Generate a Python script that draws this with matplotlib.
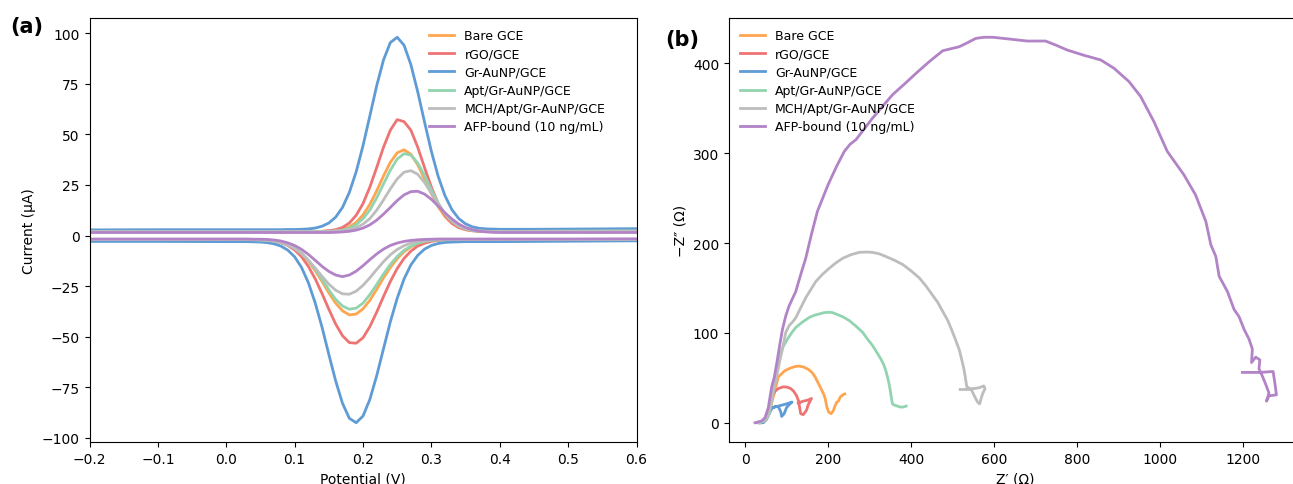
import matplotlib
matplotlib.use("Agg")
import matplotlib.pyplot as plt

labels = ["Bare GCE", "rGO/GCE", "Gr-AuNP/GCE", "Apt/Gr-AuNP/GCE",
          "MCH/Apt/Gr-AuNP/GCE", "AFP-bound (10 ng/mL)"]
colors = ["#ffa54f", "#ee7373", "#5f9bd5", "#93d4b0", "#bdbdbd", "#b283c6"]

# ---- (a) cyclic voltammograms, potential in V, current in uA ----
potential = [-0.20, -0.10, 0.00, 0.03, 0.04, 0.05, 0.06, 0.07, 0.08, 0.09,
             0.10, 0.11, 0.12, 0.13, 0.14, 0.15, 0.16, 0.17, 0.18, 0.19,
             0.20, 0.21, 0.22, 0.23, 0.24, 0.25, 0.26, 0.27, 0.28, 0.29,
             0.30, 0.31, 0.32, 0.33, 0.34, 0.35, 0.36, 0.37, 0.38, 0.39,
             0.40, 0.45, 0.50, 0.60]

# forward (anodic) sweep
ox_bare = [2.0, 2.0, 2.0, 2.0, 2.0, 2.0, 2.0, 2.0, 2.0, 2.0,
           2.0, 2.0, 2.0, 2.0, 2.1, 2.2, 2.4, 3.1, 4.3, 6.5,
           10.2, 15.4, 22.1, 29.5, 36.2, 40.9, 42.4, 40.2, 35.0, 28.0,
           20.7, 14.2, 9.3, 6.0, 4.0, 2.9, 2.4, 2.1, 2.0, 2.0,
           2.0, 2.1, 2.2, 2.3]
ox_rgo = [2.0, 2.0, 2.0, 2.0, 2.0, 2.0, 2.0, 2.0, 2.0, 2.0,
          2.0, 2.0, 2.0, 2.0, 2.1, 2.4, 2.9, 4.0, 6.2, 10.0,
          15.8, 23.9, 33.6, 43.7, 52.1, 57.3, 56.3, 52.1, 43.7, 33.6,
          23.9, 15.8, 10.0, 6.2, 4.0, 2.9, 2.4, 2.1, 2.0, 2.0,
          2.0, 2.1, 2.2, 2.4]
ox_auNP = [2.8, 2.9, 2.9, 2.9, 2.9, 2.9, 2.9, 2.9, 2.9, 3.0,
           3.0, 3.1, 3.3, 3.7, 4.6, 6.2, 9.1, 13.9, 21.3, 31.5,
           44.4, 59.1, 74.0, 86.8, 95.4, 98.0, 94.1, 84.5, 71.1, 56.1,
           41.6, 29.2, 19.6, 12.8, 8.4, 5.8, 4.3, 3.6, 3.3, 3.2,
           3.1, 3.1, 3.2, 3.4]
ox_apt = [2.0, 2.0, 2.0, 2.0, 2.0, 2.0, 2.0, 2.0, 2.0, 2.0,
          2.0, 2.0, 2.0, 2.0, 2.0, 2.1, 2.3, 2.7, 3.6, 5.4,
          8.3, 12.6, 18.6, 25.5, 32.3, 37.8, 40.5, 39.8, 35.9, 29.7,
          22.6, 16.0, 10.7, 7.0, 4.6, 3.2, 2.5, 2.2, 2.1, 2.0,
          2.0, 2.1, 2.2, 2.3]
ox_mch = [2.0, 2.0, 2.0, 2.0, 2.0, 2.0, 2.0, 2.0, 2.0, 2.0,
          2.0, 2.0, 2.0, 2.0, 2.0, 2.0, 2.1, 2.4, 2.9, 3.9,
          5.6, 8.4, 12.5, 17.6, 23.1, 28.0, 31.3, 32.1, 30.3, 26.2,
          20.9, 15.4, 10.7, 7.2, 4.8, 3.4, 2.6, 2.3, 2.1, 2.0,
          2.0, 2.1, 2.1, 2.2]
ox_afp = [1.5, 1.5, 1.5, 1.5, 1.5, 1.5, 1.5, 1.5, 1.5, 1.5,
          1.5, 1.5, 1.5, 1.5, 1.5, 1.5, 1.6, 1.8, 2.1, 2.7,
          3.7, 5.3, 7.6, 10.6, 13.9, 17.3, 20.1, 21.7, 21.9, 20.5,
          17.9, 14.6, 11.2, 8.2, 5.7, 4.0, 2.9, 2.2, 1.8, 1.6,
          1.5, 1.5, 1.5, 1.5]

# reverse (cathodic) sweep
red_bare = [-2.0, -2.0, -2.0, -2.0, -2.0, -2.1, -2.3, -2.7, -3.3, -4.4,
            -6.2, -8.9, -12.6, -17.3, -22.6, -28.3, -33.4, -37.2, -39.2, -38.8,
            -36.2, -32.0, -26.6, -20.9, -15.8, -11.4, -8.0, -5.6, -4.0, -3.1,
            -2.5, -2.3, -2.1, -2.0, -2.0, -2.0, -2.0, -2.0, -2.0, -2.0,
            -2.0, -2.0, -2.0, -1.9]
red_rgo = [-2.0, -2.0, -2.0, -2.0, -2.1, -2.2, -2.4, -2.8, -3.5, -4.9,
           -7.1, -10.4, -15.2, -21.3, -28.6, -36.4, -43.7, -49.5, -52.9, -53.2,
           -50.5, -45.0, -37.9, -30.1, -22.7, -16.3, -11.3, -7.7, -5.2, -3.8,
           -2.9, -2.4, -2.2, -2.1, -2.0, -2.0, -2.0, -2.0, -2.0, -2.0,
           -2.0, -2.0, -2.0, -1.9]
red_auNP = [-2.9, -2.9, -3.0, -3.0, -3.1, -3.2, -3.5, -4.1, -5.2, -7.2,
            -10.5, -15.7, -23.2, -33.2, -45.2, -58.7, -71.8, -82.9, -90.3, -92.5,
            -89.2, -81.0, -69.3, -55.9, -42.6, -31.0, -21.5, -14.5, -9.8, -6.7,
            -4.9, -3.9, -3.4, -3.2, -3.1, -3.0, -3.0, -3.0, -3.0, -3.0,
            -3.0, -2.9, -2.8, -2.6]
red_apt = [-2.0, -2.0, -2.0, -2.0, -2.0, -2.1, -2.3, -2.7, -3.3, -4.4,
           -6.1, -8.7, -12.2, -16.6, -21.6, -26.8, -31.5, -34.8, -36.4, -35.9,
           -33.4, -29.2, -24.2, -19.0, -14.3, -10.3, -7.3, -5.2, -3.8, -2.9,
           -2.4, -2.2, -2.1, -2.0, -2.0, -2.0, -2.0, -2.0, -2.0, -2.0,
           -2.0, -2.0, -2.0, -1.9]
red_mch = [-2.0, -2.0, -2.0, -2.0, -2.1, -2.2, -2.4, -2.8, -3.5, -4.7,
           -6.4, -8.9, -12.2, -16.0, -20.1, -24.0, -27.0, -28.8, -29.0, -27.5,
           -24.6, -20.9, -16.8, -12.9, -9.5, -6.9, -5.0, -3.7, -2.9, -2.5,
           -2.2, -2.1, -2.0, -2.0, -2.0, -2.0, -2.0, -2.0, -2.0, -2.0,
           -2.0, -2.0, -2.0, -1.9]
red_afp = [-1.7, -1.7, -1.7, -1.7, -1.8, -1.8, -1.9, -2.2, -2.7, -3.6,
           -4.9, -6.8, -9.3, -12.2, -15.2, -17.7, -19.5, -20.3, -19.5, -17.6,
           -14.9, -11.9, -9.1, -6.7, -4.9, -3.7, -2.9, -2.4, -2.1, -1.9,
           -1.8, -1.7, -1.7, -1.7, -1.7, -1.7, -1.7, -1.7, -1.7, -1.7,
           -1.7, -1.7, -1.7, -1.6]

ox_all = [ox_bare, ox_rgo, ox_auNP, ox_apt, ox_mch, ox_afp]
red_all = [red_bare, red_rgo, red_auNP, red_apt, red_mch, red_afp]

# ---- (b) Nyquist plots, Z' and -Z'' in ohm ----
zre_bare = [38, 50, 58, 64, 72, 80, 96, 110, 121, 131, 141, 152, 161, 168, 173,
            179, 185, 190, 193, 197, 201, 207, 211, 213, 217, 221, 225, 229, 233, 237, 240]
zim_bare = [0, 3, 10, 22, 36, 51, 58, 61, 62.6, 63, 62, 59.5, 56, 51.5, 47,
            41.5, 36, 31, 26.7, 17.4, 12, 10, 12.5, 14, 19, 23, 24, 28.5, 30, 31.5, 32]
zre_rgo = [36, 50, 58, 64, 72, 80, 92, 101, 110, 117, 124, 129, 132, 134, 140,
           148, 152, 160, 150, 140, 128]
zim_rgo = [0, 3, 12, 28, 35, 38, 40, 39.6, 38, 35, 30, 24, 15, 10, 9,
           14, 20, 27, 25, 24, 22]
zre_auNP = [30, 44, 52, 58, 64, 72, 80, 86, 88, 94, 100, 106, 113, 100, 88, 76, 68]
zim_auNP = [0, 0, 4, 10, 15.6, 18, 18, 12, 7, 10, 17, 20, 23, 21, 19.5, 18, 17]
zre_apt = [36, 50, 58, 64, 70, 76, 82, 92, 102, 112, 122, 138, 154, 166, 178, 190,
           203, 211, 219, 235, 251, 267, 283, 295, 307, 317, 327, 334, 339, 343,
           346, 349, 351, 353, 355, 360, 367, 373, 380, 388]
zim_apt = [0, 3, 10, 25, 42, 58, 75, 85, 93, 100, 106, 112, 117, 119.5, 121, 122.5,
           123, 122.5, 121, 118, 113.7, 107.5, 100.7, 93, 86, 78.5, 71, 64.5, 58, 51,
           45, 38, 32, 26, 21, 19.5, 18.5, 17.5, 17.4, 18.5]
zre_mch = [32, 46, 56, 62, 70, 78, 84, 90, 98, 106, 114, 122, 134, 146, 158, 170,
           186, 203, 219, 235, 255, 275, 291, 307, 323, 339, 359, 380, 400, 420,
           436, 450, 464, 476, 488, 498, 508, 516, 522, 527, 530, 532, 534, 542,
           552, 564, 575, 578, 572, 568, 565, 560, 552, 545, 530, 518]
zim_mch = [0, 2, 8, 22, 38, 56, 70, 82, 100.7, 108, 112, 116.7, 128, 139, 148, 157,
           165, 172, 178, 183, 187, 189.6, 190, 189.6, 188, 185, 181, 176, 169, 161,
           152, 143, 134, 124, 114, 103, 91, 81, 70, 60, 52, 46, 40, 38,
           38, 39, 41, 38, 32, 26, 21, 23, 30, 37, 37, 37]
zre_afp = [24, 40, 48, 56, 64, 70, 76, 84, 90, 98, 106, 114, 122, 134, 146, 160,
           174, 187, 200, 220, 239, 253, 267, 287, 307, 331, 355, 384, 412, 444,
           476, 516, 536, 556, 576, 597, 637, 680, 724, 750, 776, 816, 857, 889,
           925, 953, 985, 1017, 1057, 1085, 1110, 1122, 1134, 1142, 1162, 1178,
           1190, 1202, 1214, 1222, 1220, 1230, 1240, 1238, 1246, 1254, 1262, 1256,
           1262, 1280, 1276, 1272, 1240, 1198]
zim_afp = [0, 2, 5.6, 17, 40, 50, 65.5, 88, 104, 119, 130, 138, 146, 165, 183, 210,
           235, 250, 265, 285, 302, 310, 315, 327, 339, 352, 365, 377, 389, 402,
           414, 418.5, 423, 427.8, 429, 429, 427, 424.8, 424.8, 420, 414.8, 409,
           403.7, 394.4, 379.6, 363, 335, 302, 276, 253.7, 224, 198, 185, 163, 146,
           126, 118, 104, 93, 82, 67, 73, 70, 60, 52, 43, 33, 24,
           30, 31, 45, 57, 56, 56]

zre_all = [zre_bare, zre_rgo, zre_auNP, zre_apt, zre_mch, zre_afp]
zim_all = [zim_bare, zim_rgo, zim_auNP, zim_apt, zim_mch, zim_afp]

W, H = 1293, 485
fig = plt.figure(figsize=(W / 100, H / 100), dpi=100)
ax1 = fig.add_axes([89.5 / W, 42 / H, 547 / W, 424 / H])
ax2 = fig.add_axes([729 / W, 42 / H, 573.5 / W, 424 / H])

lw = 2.0
for i in range(6):
    ax1.plot(potential, ox_all[i], color=colors[i], lw=lw, label=labels[i])
    ax1.plot(potential, red_all[i], color=colors[i], lw=lw)
ax1.set_xlim(-0.2, 0.6)
ax1.set_xlabel("Potential (V)", fontsize=10)
ax1.set_ylabel("Current (\u03bcA)", fontsize=10)
ax1.tick_params(labelsize=10)
ax1.legend(loc="upper right", bbox_to_anchor=(1 - 20 / 547, 1), frameon=False,
           fontsize=9, labelspacing=0.42)

for i in range(6):
    ax2.plot(zre_all[i], zim_all[i], color=colors[i], lw=lw, label=labels[i])
ax2.set_xlabel("Z\u2032 (\u03a9)", fontsize=10)
ax2.set_ylabel("\u2212Z\u2033 (\u03a9)", fontsize=10)
ax2.set_yticks([0, 100, 200, 300, 400])
ax2.tick_params(labelsize=10)
ax2.legend(loc="upper left", frameon=False, fontsize=9, labelspacing=0.42)

fig.text(10 / W, 1 - 27 / H, "(a)", fontsize=15, fontweight="bold", va="center")
fig.text(665 / W, 1 - 40 / H, "(b)", fontsize=15, fontweight="bold", va="center")

fig.savefig("out.png", dpi=100)
